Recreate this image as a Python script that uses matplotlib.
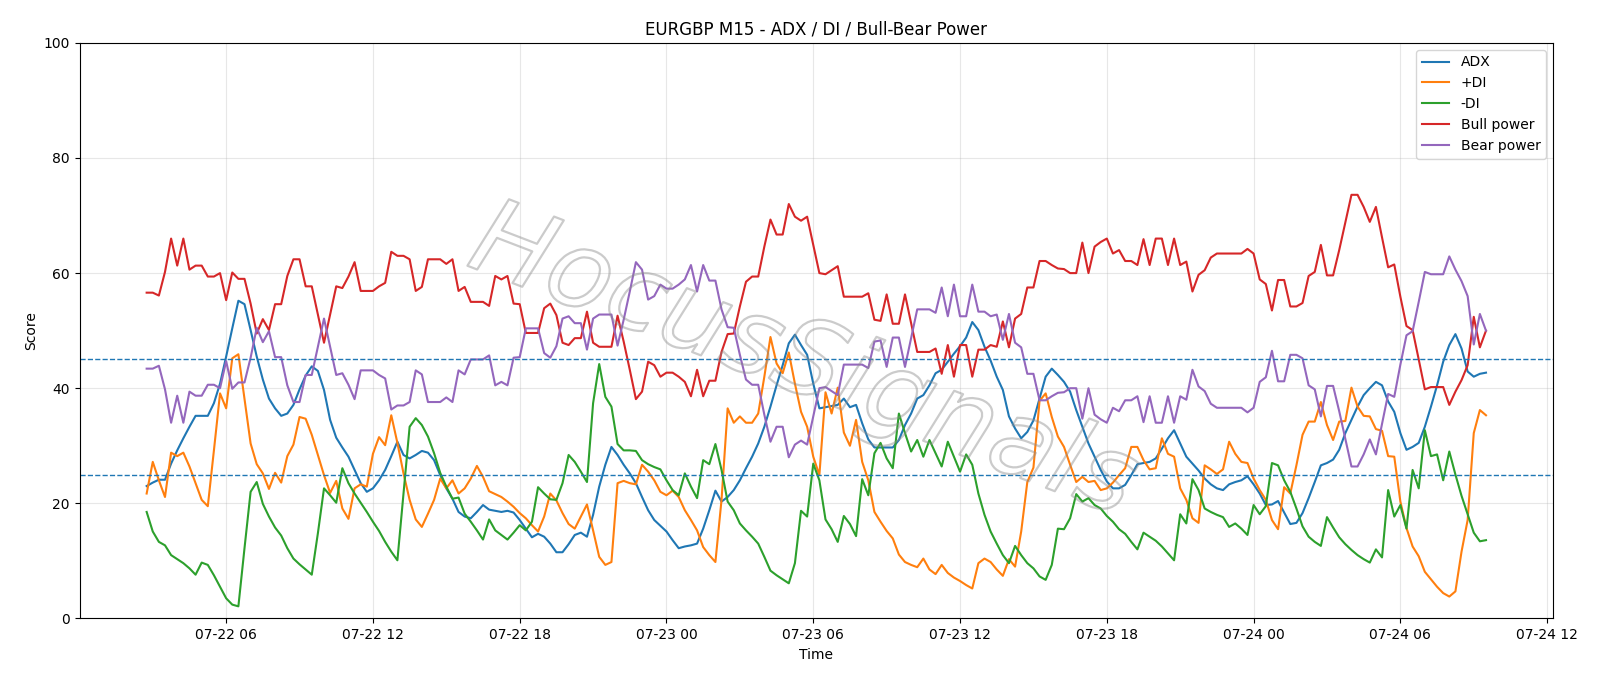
import matplotlib
matplotlib.use("Agg")
import matplotlib.pyplot as plt
import matplotlib.patheffects as pe
import pandas as pd

# EURGBP M15, 07-22 02:45 -> 07-24 09:30 (220 bars)
start = "2025-07-22 02:45"
n_bars = 220

adx = [23.0, 23.6, 24.1, 24.1, 26.9, 29.2, 31.3, 33.3, 35.2, 35.2, 35.2, 37.4, 40.8, 45.5, 50.4, 55.2, 54.6, 50.1, 45.5, 41.5,
       38.2, 36.5, 35.2, 35.6, 37.1, 39.8, 42.2, 43.8, 43.0, 39.7, 34.5, 31.4, 29.7, 28.1, 25.8, 23.5, 22.0, 22.6, 24.0, 25.8,
       28.2, 30.7, 28.4, 27.8, 28.4, 29.1, 28.8, 27.5, 24.9, 22.6, 20.8, 18.5, 17.7, 17.4, 18.5, 19.7, 18.9, 18.7, 18.5, 18.7,
       18.4, 17.1, 15.6, 14.1, 14.7, 14.2, 13.0, 11.5, 11.5, 12.9, 14.5, 14.9, 14.2, 18.0, 22.9, 26.7, 29.8, 28.4, 26.7, 25.2,
       23.5, 21.1, 18.8, 17.1, 16.1, 15.1, 13.6, 12.2, 12.5, 12.7, 13.0, 15.6, 18.8, 22.2, 20.3, 21.1, 22.3, 24.0, 26.1, 28.1,
       30.4, 33.3, 36.8, 40.5, 44.0, 47.8, 49.3, 47.5, 45.8, 40.8, 36.5, 36.7, 36.9, 37.1, 38.2, 36.7, 37.1, 33.9, 31.1, 29.7,
       29.7, 29.7, 29.7, 31.0, 33.6, 35.6, 38.2, 38.8, 40.5, 42.6, 43.2, 44.6, 46.0, 47.3, 48.8, 51.5, 50.1, 47.2, 44.8, 42.0,
       39.7, 35.1, 33.0, 31.3, 32.4, 34.4, 38.2, 42.0, 43.4, 42.3, 41.1, 39.4, 36.2, 33.3, 30.4, 28.1, 25.8, 23.8, 22.6, 22.6,
       23.2, 24.9, 26.8, 27.0, 27.2, 27.8, 29.5, 31.3, 32.7, 30.4, 28.1, 26.9, 25.7, 24.3, 23.3, 22.6, 22.3, 23.3, 23.7, 24.0,
       24.7, 23.3, 21.7, 19.7, 19.8, 20.4, 18.4, 16.4, 16.6, 18.3, 20.9, 23.7, 26.6, 27.0, 27.6, 29.3, 32.2, 34.5, 36.8, 38.8,
       40.0, 41.1, 40.5, 37.7, 35.9, 32.2, 29.3, 29.8, 30.5, 33.3, 36.8, 40.5, 44.6, 47.5, 49.4, 46.9, 42.9, 42.0, 42.5, 42.7]

plus_di = [21.7, 27.2, 24.0, 21.1, 28.8, 28.2, 28.8, 26.4, 23.5, 20.6, 19.5, 29.2, 39.1, 36.5, 45.2, 45.9, 38.2, 30.4, 26.8, 25.2,
           22.5, 25.3, 23.6, 28.2, 30.2, 35.0, 34.7, 31.9, 28.4, 24.9, 21.8, 23.9, 19.1, 17.3, 22.6, 23.3, 22.9, 28.6, 31.5, 30.1,
           35.3, 30.5, 25.2, 20.6, 17.2, 15.9, 18.2, 20.6, 24.3, 22.6, 24.0, 21.7, 22.6, 24.3, 26.5, 24.6, 22.1, 21.6, 21.1, 20.3,
           19.4, 18.3, 17.4, 16.2, 15.1, 17.7, 21.7, 20.5, 18.3, 16.4, 15.6, 17.7, 19.8, 15.3, 10.7, 9.3, 9.8, 23.5, 23.9, 23.5,
           23.3, 26.7, 25.5, 24.0, 22.0, 21.4, 22.2, 21.1, 18.8, 17.1, 15.3, 12.4, 11.0, 9.8, 20.6, 36.5, 34.0, 35.1, 34.0, 34.0,
           35.6, 42.0, 48.9, 44.3, 42.6, 46.2, 40.8, 35.9, 33.3, 28.1, 24.9, 39.3, 35.6, 40.1, 32.3, 30.0, 34.5, 27.2, 24.0, 18.5,
           16.8, 15.2, 13.9, 11.1, 9.8, 9.3, 8.9, 10.4, 8.5, 7.7, 9.3, 7.9, 7.1, 6.5, 5.8, 5.2, 9.6, 10.4, 9.8, 8.5,
           7.4, 10.3, 9.0, 15.1, 23.7, 26.2, 37.8, 39.1, 35.0, 31.6, 29.8, 26.7, 23.7, 24.6, 23.7, 23.9, 22.3, 22.6, 23.6, 24.9,
           26.1, 29.8, 29.8, 27.5, 25.9, 26.1, 31.3, 28.6, 28.1, 22.6, 20.6, 17.4, 16.6, 26.6, 25.9, 25.1, 25.9, 30.7, 28.6, 27.2,
           27.0, 24.3, 22.3, 20.6, 17.1, 15.5, 22.8, 21.7, 26.6, 31.9, 34.2, 34.2, 37.6, 33.6, 31.0, 34.2, 34.3, 40.1, 36.8, 35.2,
           35.1, 32.9, 32.6, 28.2, 28.1, 20.3, 15.7, 12.5, 10.8, 8.1, 6.8, 5.5, 4.4, 3.8, 4.7, 11.6, 17.1, 32.2, 36.2, 35.3]

minus_di = [18.5, 15.1, 13.3, 12.7, 11.0, 10.3, 9.6, 8.7, 7.6, 9.7, 9.3, 7.5, 5.5, 3.5, 2.4, 2.1, 12.2, 22.0, 23.7, 19.9,
            17.7, 15.8, 14.4, 12.2, 10.4, 9.4, 8.5, 7.6, 14.8, 22.6, 21.4, 20.1, 26.1, 23.5, 21.7, 20.1, 18.5, 16.8, 15.2, 13.3,
            11.6, 10.1, 21.7, 33.3, 34.8, 33.6, 31.6, 28.7, 25.3, 22.9, 20.8, 21.0, 18.2, 16.8, 15.3, 13.7, 17.2, 15.3, 14.5, 13.7,
            14.9, 16.2, 15.3, 16.8, 22.8, 21.7, 20.7, 20.6, 23.5, 28.4, 27.2, 25.5, 23.7, 37.4, 44.2, 38.5, 36.8, 30.3, 29.2, 29.2,
            29.1, 27.5, 26.8, 26.3, 25.9, 24.0, 22.3, 21.4, 25.2, 22.9, 20.9, 27.5, 26.8, 30.3, 25.8, 20.3, 18.8, 16.5, 15.3, 14.2,
            13.0, 10.7, 8.3, 7.5, 6.8, 6.1, 9.6, 18.7, 17.7, 26.9, 24.0, 17.2, 15.5, 13.3, 17.8, 16.4, 14.3, 24.2, 21.4, 28.7,
            30.5, 27.8, 26.1, 35.6, 32.2, 29.0, 31.0, 28.1, 31.0, 28.7, 26.4, 30.7, 28.1, 25.5, 28.5, 26.7, 21.7, 18.0, 15.1, 13.0,
            11.0, 9.6, 12.6, 11.0, 9.6, 8.7, 7.3, 6.7, 9.3, 15.6, 15.5, 17.4, 21.6, 20.3, 20.9, 19.7, 19.1, 17.8, 16.8, 15.5,
            14.7, 13.3, 12.0, 14.9, 14.2, 13.5, 12.5, 11.3, 10.1, 18.1, 16.5, 24.2, 22.3, 19.1, 18.5, 18.0, 17.6, 15.9, 16.5, 15.6,
            14.5, 19.7, 18.1, 19.5, 27.0, 26.6, 24.0, 22.0, 19.1, 16.0, 14.2, 13.3, 12.6, 17.6, 15.8, 14.1, 12.9, 11.9, 11.0, 10.3,
            9.7, 12.0, 10.6, 22.3, 17.7, 19.7, 15.6, 25.8, 22.6, 32.7, 28.2, 28.5, 24.0, 29.0, 25.0, 21.3, 18.1, 14.9, 13.4, 13.6]

bull = [56.6, 56.6, 56.1, 60.2, 66.0, 61.3, 66.0, 60.6, 61.3, 61.3, 59.4, 59.4, 60.0, 55.3, 60.1, 59.0, 59.0, 54.7, 49.5, 52.0,
        50.1, 54.6, 54.6, 59.5, 62.4, 62.4, 57.7, 57.7, 52.8, 47.9, 52.8, 57.7, 57.4, 59.4, 61.9, 56.9, 56.9, 56.9, 57.7, 58.3,
        63.7, 63.0, 63.0, 62.4, 56.9, 57.6, 62.4, 62.4, 62.4, 61.6, 62.4, 56.9, 57.6, 55.0, 55.0, 55.0, 54.3, 59.5, 58.9, 59.5,
        54.7, 54.6, 49.6, 49.6, 49.6, 53.9, 54.7, 52.7, 47.9, 47.5, 48.7, 48.7, 53.3, 47.9, 47.2, 47.2, 47.2, 52.6, 48.1, 43.2,
        38.1, 39.4, 44.6, 44.0, 42.0, 42.7, 42.7, 42.0, 41.1, 38.6, 43.2, 38.6, 41.3, 41.3, 46.3, 49.4, 49.5, 54.2, 58.5, 59.4,
        59.4, 64.6, 69.3, 66.7, 66.7, 72.0, 69.8, 69.1, 69.8, 64.9, 60.0, 59.8, 60.5, 61.2, 55.9, 55.9, 55.9, 55.9, 56.5, 51.9,
        51.7, 56.3, 51.2, 51.2, 56.3, 51.3, 46.3, 46.3, 46.3, 46.9, 42.5, 47.5, 42.0, 47.5, 47.5, 42.0, 46.7, 46.7, 47.5, 47.2,
        51.6, 47.1, 52.1, 52.9, 57.5, 57.5, 62.1, 62.1, 61.4, 60.8, 60.7, 60.0, 60.0, 65.3, 60.0, 64.6, 65.4, 66.0, 63.4, 64.0,
        62.1, 62.1, 61.4, 65.9, 61.4, 66.0, 66.0, 61.4, 66.0, 61.4, 62.0, 56.8, 59.7, 60.5, 62.7, 63.4, 63.4, 63.4, 63.4, 63.4,
        64.2, 63.4, 58.9, 58.1, 53.5, 58.8, 58.8, 54.2, 54.2, 54.8, 59.5, 60.2, 64.9, 59.6, 59.6, 64.0, 68.8, 73.6, 73.6, 71.5,
        68.9, 71.5, 66.2, 61.0, 61.5, 55.9, 50.8, 50.1, 45.0, 39.8, 40.2, 40.2, 40.2, 37.1, 39.4, 41.4, 44.0, 52.4, 47.1, 50.0]

bear = [43.4, 43.4, 43.9, 39.8, 34.0, 38.7, 34.0, 39.4, 38.7, 38.7, 40.6, 40.6, 40.0, 44.7, 39.9, 41.0, 41.0, 45.3, 50.5, 48.0,
        49.9, 45.4, 45.4, 40.5, 37.6, 37.6, 42.3, 42.3, 47.2, 52.1, 47.2, 42.3, 42.6, 40.6, 38.1, 43.1, 43.1, 43.1, 42.3, 41.7,
        36.3, 37.0, 37.0, 37.6, 43.1, 42.4, 37.6, 37.6, 37.6, 38.4, 37.6, 43.1, 42.4, 45.0, 45.0, 45.0, 45.7, 40.5, 41.1, 40.5,
        45.3, 45.4, 50.4, 50.4, 50.4, 46.1, 45.3, 47.3, 52.1, 52.5, 51.3, 51.3, 46.7, 52.1, 52.8, 52.8, 52.8, 47.4, 51.9, 56.8,
        61.9, 60.6, 55.4, 56.0, 58.0, 57.3, 57.3, 58.0, 58.9, 61.4, 56.8, 61.4, 58.7, 58.7, 53.7, 50.6, 50.5, 45.8, 41.5, 40.6,
        40.6, 35.4, 30.7, 33.3, 33.3, 28.0, 30.2, 30.9, 30.2, 35.1, 40.0, 40.2, 39.5, 38.8, 44.1, 44.1, 44.1, 44.1, 43.5, 48.1,
        48.3, 43.7, 48.8, 48.8, 43.7, 48.7, 53.7, 53.7, 53.7, 53.1, 57.5, 52.5, 58.0, 52.5, 52.5, 58.0, 53.3, 53.3, 52.5, 52.8,
        48.4, 52.9, 47.9, 47.1, 42.5, 42.5, 37.9, 37.9, 38.6, 39.2, 39.3, 40.0, 40.0, 34.7, 40.0, 35.4, 34.6, 34.0, 36.6, 36.0,
        37.9, 37.9, 38.6, 34.1, 38.6, 34.0, 34.0, 38.6, 34.0, 38.6, 38.0, 43.2, 40.3, 39.5, 37.3, 36.6, 36.6, 36.6, 36.6, 36.6,
        35.8, 36.6, 41.1, 41.9, 46.5, 41.2, 41.2, 45.8, 45.8, 45.2, 40.5, 39.8, 35.1, 40.4, 40.4, 36.0, 31.2, 26.4, 26.4, 28.5,
        31.1, 28.5, 33.8, 39.0, 38.5, 44.1, 49.2, 49.9, 55.0, 60.2, 59.8, 59.8, 59.8, 62.9, 60.6, 58.6, 56.0, 47.6, 52.9, 50.0]

times = pd.date_range(start, periods=n_bars, freq="15min")

fig, ax = plt.subplots(figsize=(16, 6.86), dpi=100)
fig.subplots_adjust(left=0.0498, right=0.9706, bottom=0.0985, top=0.9375)

ax.plot(times, adx, label="ADX")
ax.plot(times, plus_di, label="+DI")
ax.plot(times, minus_di, label="-DI")
ax.plot(times, bull, label="Bull power")
ax.plot(times, bear, label="Bear power")

ax.axhline(45, linestyle="--", linewidth=1)
ax.axhline(25, linestyle="--", linewidth=1)

ax.set_ylim(0, 100)
ax.set_title("EURGBP M15 - ADX / DI / Bull-Bear Power")
ax.set_xlabel("Time")
ax.set_ylabel("Score")
ax.grid(True, alpha=0.3)
ax.legend(loc="upper right")

# watermark: hollow grey letters
fig.text(0.502, 0.47, "HocusSignals", fontsize=76, color=(1, 1, 1, 0),
         rotation=-21, ha="center", va="center", style="italic",
         path_effects=[pe.Stroke(linewidth=1.6, foreground=(0.55, 0.55, 0.55, 0.45))])

fig.savefig("out.png", dpi=100)
